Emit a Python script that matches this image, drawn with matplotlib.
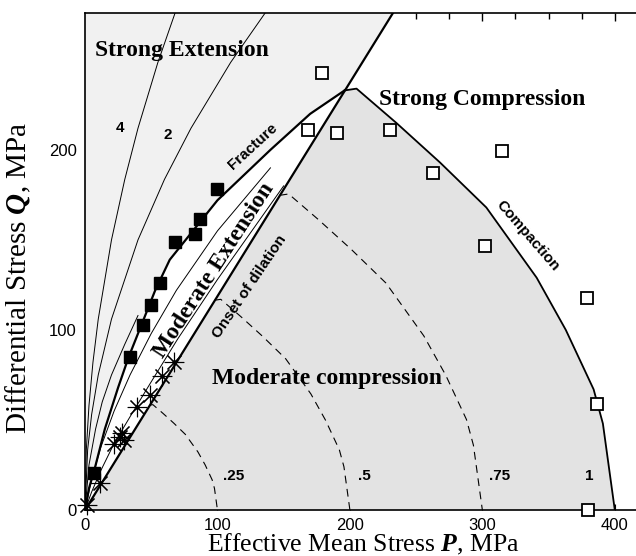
import numpy as np
import matplotlib.pyplot as plt

plt.rcParams['font.family'] = ['Liberation Sans', 'DejaVu Sans']
plt.rcParams['mathtext.fontset'] = 'custom'
plt.rcParams['mathtext.rm'] = 'Liberation Serif'
plt.rcParams['mathtext.bfit'] = 'Liberation Serif:italic:bold'

# fracture envelope (P, Q in MPa)
fracture_P = [0, 3, 7, 15, 25, 33, 53, 64, 100, 140, 170, 196]
fracture_Q = [0, 12, 22, 45, 68, 85, 122, 139, 172, 200, 220, 233]

# onset of dilation, straight through the origin
onset_P = [0, 232.5]
onset_Q = [0, 276]

# compaction cap at full size
cap_P = [196, 205, 235, 268, 303, 341, 363, 384, 391, 400]
cap_Q = [233, 234, 215, 193, 168, 129, 100, 67, 48, 0]
cap_levels = [0.25, 0.5, 0.75]
cap_level_labels = ['.25', '.5', '.75', '1']
cap_label_P = [112, 211, 313, 380.6]

# contours in the extension field
k4_P = [0, 1, 3, 6, 10, 20, 30, 40, 55, 68]
k4_Q = [0, 33.5, 58, 82, 106, 150, 183.5, 212, 248.5, 276]
k2_P = [0, 2, 5, 10, 20, 40, 60, 80, 110, 136]
k2_Q = [0, 33.5, 53, 75, 106, 150, 183.6, 212, 248.6, 276]
k1_P = [0, 3, 8, 13, 20, 30, 40]
k1_Q = [0, 25, 45, 60, 75, 92, 108]
lensA_P = [0, 5, 12, 22, 34, 50, 69, 100, 140]
lensA_Q = [0, 17, 35, 55, 75, 98, 122, 155, 190]
lensB_P = [0, 5, 12, 22, 35, 49, 70, 100, 150]
lensB_Q = [0, 10, 22, 37, 53, 70, 95, 128, 180]

# experiments
strong_ext_P = [6.8, 34, 44, 49.6, 56.6, 68, 83, 87, 99.4]
strong_ext_Q = [20.6, 85, 103, 114, 126, 149, 153, 161.5, 178]
mod_ext_P = [1.7, 11.3, 21.9, 26.4, 29.4, 28, 39, 49, 58, 67]
mod_ext_Q = [2.8, 14.8, 36.7, 40.7, 38.9, 43, 57, 64, 74.4, 82]
comp_P = [178.6, 168.5, 190.4, 230.2, 262.9, 315, 301.9, 379, 386.2, 379.9]
comp_Q = [242.6, 211.1, 209.3, 211.1, 187.4, 199.3, 146.8, 117.6, 58.9, 0]

P_MAX, Q_MAX = 416, 276

fig = plt.figure(figsize=(6.36, 5.56), dpi=100)
ax = fig.add_axes([85 / 636, 46 / 556, 551 / 636, 497 / 556])
ax.set_xlim(0, P_MAX)
ax.set_ylim(0, Q_MAX)
ax.set_axisbelow(True)

# shaded fields
ext_P = fracture_P + [onset_P[1], 0]
ext_Q = fracture_Q + [onset_Q[1], Q_MAX]
ax.fill(ext_P, ext_Q, color='#f1f1f1', zorder=1, lw=0)
mc_P = [0] + cap_P + [0]
mc_Q = [0] + cap_Q + [0]
ax.fill(mc_P, mc_Q, color='#e3e3e3', zorder=1, lw=0)

for P, Q in [(k4_P, k4_Q), (k2_P, k2_Q), (k1_P, k1_Q),
             (lensA_P, lensA_Q), (lensB_P, lensB_Q)]:
    ax.plot(P, Q, color='black', lw=0.7, zorder=2)

for s in cap_levels:
    ax.plot(np.array(cap_P) * s, np.array(cap_Q) * s, color='black', lw=0.8,
            dashes=(7, 5), zorder=2)

ax.plot(fracture_P, fracture_Q, color='black', lw=1.6, zorder=3)
ax.plot(onset_P, onset_Q, color='black', lw=1.6, zorder=3)
ax.plot(cap_P, cap_Q, color='black', lw=1.3, zorder=3)

ax.plot(strong_ext_P, strong_ext_Q, 's', color='black', ms=8, zorder=4, clip_on=False)
ax.plot(mod_ext_P, mod_ext_Q, marker=(8, 2, 0), ls='none', color='black', ms=14, mew=0.8,
        zorder=4, clip_on=False)
ax.plot(mod_ext_P, mod_ext_Q, '.', color='black', ms=4, zorder=4, clip_on=False)
ax.plot(comp_P, comp_Q, 's', mfc='white', mec='black', mew=1.3, ms=8, zorder=4,
        clip_on=False)

serif_b = dict(family='Liberation Serif', weight='bold', fontsize=17)
ax.text(7.5, 255, 'Strong Extension', va='center', ha='left', **serif_b)
ax.text(222, 228, 'Strong Compression', va='center', ha='left', **serif_b)
ax.text(96, 73, 'Moderate compression', va='center', ha='left', **serif_b)
ax.text(97, 133, 'Moderate Extension', va='center', ha='center', rotation=57,
        rotation_mode='anchor', **serif_b)

sans_b = dict(weight='bold', fontsize=11)
ax.text(127, 202, 'Fracture', ha='center', va='center', rotation=42.5,
        rotation_mode='anchor', **sans_b)
ax.text(124.5, 124, 'Onset of dilation', ha='center', va='center', rotation=56,
        rotation_mode='anchor', **sans_b)
ax.text(334, 152, 'Compaction', ha='center', va='center', rotation=-49,
        rotation_mode='anchor', **sans_b)
ax.text(26.4, 212, '4', ha='center', va='center', **sans_b)
ax.text(62.6, 208, '2', ha='center', va='center', **sans_b)
for p, lab in zip(cap_label_P, cap_level_labels):
    ax.text(p, 19, lab, ha='center', va='center', **sans_b)

ax.set_xticks([0, 100, 200, 300, 400])
ax.set_yticks([0, 100, 200])
ax.tick_params(direction='in', length=4, labelsize=12, pad=6)
for sp in ax.spines.values():
    sp.set_linewidth(1.2)
ax.spines['right'].set_visible(False)

# ticks along the top edge
top = ax.twiny()
top.set_xlim(ax.get_xlim())
top.set_xticks([300, 400])
top.set_xticks([250, 275, 325, 350, 375], minor=True)
top.tick_params(which='major', direction='in', length=6, width=1, labeltop=False)
top.tick_params(which='minor', direction='in', length=4, width=1)
for sp in top.spines.values():
    sp.set_visible(False)

ax.set_xlabel(r'Effective Mean Stress $\mathbfit{P}$, MPa', family='Liberation Serif',
              fontsize=18.5, va='top')
ax.xaxis.set_label_coords(0.5045, -0.045)
ax.set_ylabel(r'Differential Stress $\mathbfit{Q}$, MPa', family='Liberation Serif',
              fontsize=21)
ax.yaxis.set_label_coords(-0.094, 1 - (278 - 13) / 497)

fig.savefig('out.png', dpi=100)
